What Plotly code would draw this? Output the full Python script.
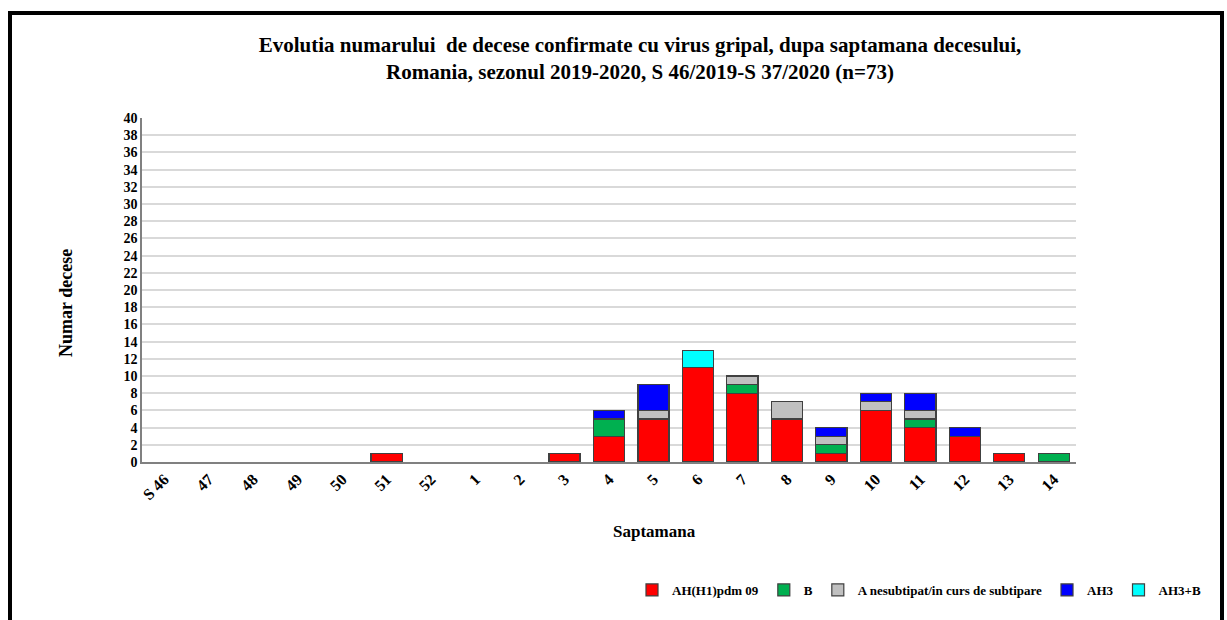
import plotly.graph_objects as go

weeks = ["S 46", "47", "48", "49", "50", "51", "52", "1", "2", "3", "4", "5", "6",
         "7", "8", "9", "10", "11", "12", "13", "14"]
ah1 = [0, 0, 0, 0, 0, 1, 0, 0, 0, 1, 3, 5, 11, 8, 5, 1, 6, 4, 3, 1, 0]
b_vals = [0, 0, 0, 0, 0, 0, 0, 0, 0, 0, 2, 0, 0, 1, 0, 1, 0, 1, 0, 0, 1]
a_nesub = [0, 0, 0, 0, 0, 0, 0, 0, 0, 0, 0, 1, 0, 1, 2, 1, 1, 1, 0, 0, 0]
ah3 = [0, 0, 0, 0, 0, 0, 0, 0, 0, 0, 1, 3, 0, 0, 0, 1, 1, 2, 1, 0, 0]
ah3b = [0, 0, 0, 0, 0, 0, 0, 0, 0, 0, 0, 0, 2, 0, 0, 0, 0, 0, 0, 0, 0]
y_ticks = list(range(0, 41, 2))

series = [
    ("AH(H1)pdm 09", ah1, "#FF0000"),
    ("B", b_vals, "#00B050"),
    ("A nesubtipat/in curs de subtipare", a_nesub, "#C0C0C0"),
    ("AH3", ah3, "#0000FF"),
    ("AH3+B", ah3b, "#00FFFF"),
]

FONT = "Times New Roman"
fig = go.Figure()
for name, vals, col in series:
    fig.add_trace(go.Bar(
        x=weeks, y=[v if v else None for v in vals], name=name,
        marker=dict(color=col, line=dict(color="#404040", width=1.2)),
    ))

W, H = 1227, 620
L, R, T, B = 142, 1227 - 1076, 118, 620 - 462
pw, ph = W - L - R, H - T - B

def px(x):
    return (x - L) / pw

def py(y):
    return (H - B - y) / ph

fig.update_layout(
    width=W, height=H,
    margin=dict(l=L, r=R, t=T, b=B, autoexpand=False),
    barmode="stack", bargap=0.3,
    plot_bgcolor="white", paper_bgcolor="white",
    font=dict(family=FONT, color="#000000"),
    title=dict(
        text="Evolutia numarului  de decese confirmate cu virus gripal, dupa saptamana decesului,<br>Romania, sezonul 2019-2020, S 46/2019-S 37/2020 (n=73)",
        x=640 / W, xanchor="center", xref="container", y=1 - 52 / H, yanchor="middle",
        font=dict(family=FONT, size=21, color="#000000", weight="bold"),
    ),
    xaxis=dict(
        type="category", tickangle=-45,
        tickfont=dict(family=FONT, size=16, weight="bold"),
        showline=True, linecolor="#808080", linewidth=1.5,
        showgrid=False, ticks="",
    ),
    yaxis=dict(
        range=[0, 40], tickvals=y_ticks, ticktext=[str(v) for v in y_ticks],
        tickfont=dict(family=FONT, size=14, weight="bold"),
        showline=True, linecolor="#808080", linewidth=1.5,
        gridcolor="#D9D9D9", gridwidth=1.5, zeroline=False, ticks="",
    ),
    legend=dict(
        orientation="h", x=px(632), xanchor="left", y=py(590), yanchor="middle",
        font=dict(family=FONT, size=13, weight="bold"),
        itemwidth=30, traceorder="normal", bgcolor="rgba(0,0,0,0)",
    ),
    annotations=[
        dict(text="<b>Saptamana</b>", xref="paper", yref="paper",
             x=px(654), y=py(531), xanchor="center", yanchor="middle",
             showarrow=False, font=dict(family=FONT, size=17)),
        dict(text="<b>Numar decese</b>", xref="paper", yref="paper",
             x=px(66), y=py(303), xanchor="center", yanchor="middle",
             showarrow=False, textangle=-90, font=dict(family=FONT, size=18)),
    ],
    shapes=[dict(
        type="rect", xref="paper", yref="paper",
        x0=px(10), x1=px(1222), y0=py(640), y1=py(13),
        line=dict(color="#000000", width=4), fillcolor="rgba(0,0,0,0)", layer="below",
    )],
)

fig.write_html(
    "out.html",
    config={"displayModeBar": False},
    post_script="document.body.style.margin='0';document.body.style.overflow='hidden';",
)
